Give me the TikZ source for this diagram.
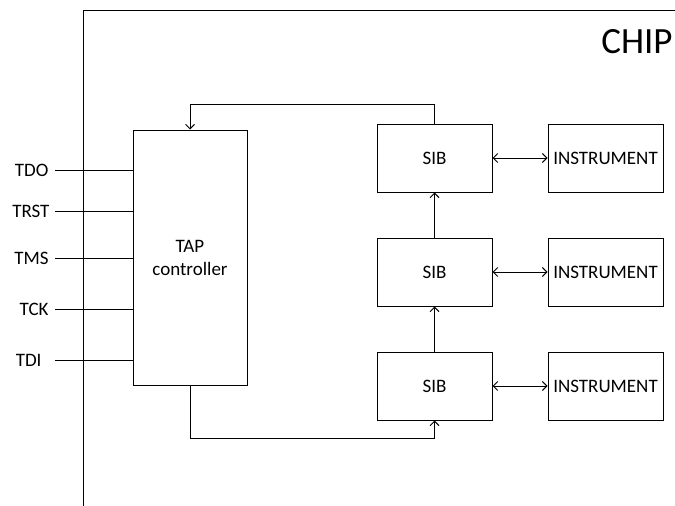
\documentclass[tikz,border=0pt]{standalone}
\usepackage{fontspec}
\setmainfont{Carlito}
\usetikzlibrary{arrows.meta}

\tikzset{
  box/.style={draw, rectangle, minimum width=115pt, minimum height=68pt, inner sep=0pt},
  pinlabel/.style={anchor=east, inner ysep=0pt},
}

\begin{document}
\begin{tikzpicture}[x=1pt, y=-1pt, line width=1pt,
    >={Straight Barb[length=4.5pt,width=9pt]},
    every node/.style={font=\fontsize{19}{23}\selectfont}]

  \useasboundingbox (0,0) rectangle (675,506);

  % --- chip outline ---
  \draw (676,10) -- (83,10) -- (83,507);
  \node[font=\fontsize{37}{40}\selectfont, anchor=east, inner sep=0pt] (chip) at (673,42) {CHIP};

  % --- TAP controller ---
  \node[box, minimum width=114pt, minimum height=255pt, align=center] (tap) at (190,257.5) {TAP\\controller};

  % --- SIB chain and instruments ---
  \node[box] (sib1) at (434.5,158) {SIB};
  \node[box] (sib2) at (434.5,272) {SIB};
  \node[box] (sib3) at (434.5,386) {SIB};

  \node[box] (inst1) at (605.5,158) {INSTRUMENT};
  \node[box] (inst2) at (605.5,272) {INSTRUMENT};
  \node[box] (inst3) at (605.5,386) {INSTRUMENT};

  \foreach \i in {1,2,3}
    \draw[<->] (sib\i) -- (inst\i);

  \draw[->] (sib3) -- (sib2);
  \draw[->] (sib2) -- (sib1);

  % scan path in / out of the TAP controller
  \draw[->] (sib1.north) -- ++(0,-19) -| (tap.north);
  \draw[->] (tap.south) -- ++(0,53) -| (sib3.south);

  % --- JTAG pins ---
  \foreach \name/\y/\sep in {TDO/170/6pt, TRST/211/5pt, TMS/258/6pt, TCK/309/6pt, TDI/360/13pt} {
    \node[pinlabel, inner xsep=\sep] (p\name) at (55,\y) {\name};
    \draw (55,\y) -- (p\name.east -| tap.west);
  }

\end{tikzpicture}
\end{document}
